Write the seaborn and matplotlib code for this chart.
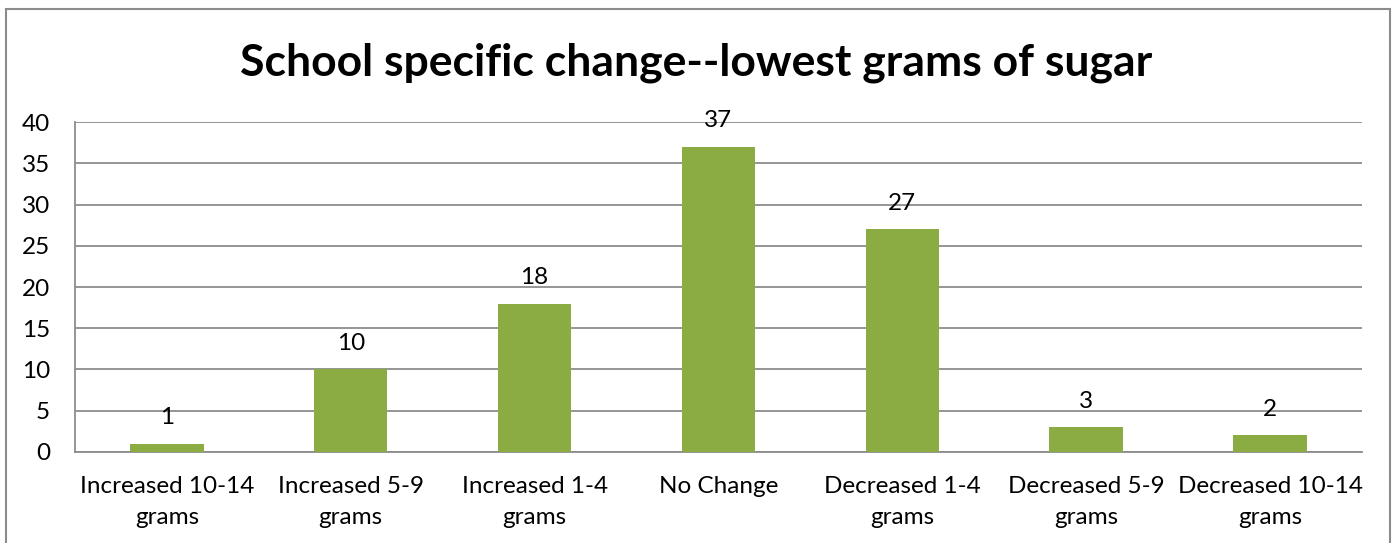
import matplotlib
matplotlib.use("Agg")
import matplotlib.pyplot as plt
from matplotlib.patches import Rectangle
import seaborn as sns
import pandas as pd

categories = [
    "Increased 10-14\ngrams",
    "Increased 5-9\ngrams",
    "Increased 1-4\ngrams",
    "No Change",
    "Decreased 1-4\ngrams",
    "Decreased 5-9\ngrams",
    "Decreased 10-14\ngrams",
]
counts = [1, 10, 18, 37, 27, 3, 2]
y_ticks = [0, 5, 10, 15, 20, 25, 30, 35, 40]

title = "School specific change--lowest grams of sugar"
bar_color = "#8AAC42"
grid_color = "#8C8C8C"

sns.set_theme(style="white")
plt.rcParams["font.family"] = ["Lato", "DejaVu Sans"]

df = pd.DataFrame({"category": categories, "count": counts})

fig = plt.figure(figsize=(13.93, 5.43), dpi=100)
ax = fig.add_axes([0.0538, 0.1676, 0.9239, 0.6077])

sns.barplot(data=df, x="category", y="count", color=bar_color, saturation=1,
            width=0.4, linewidth=0, ax=ax, zorder=3)

ax.set_ylim(0, 40)
ax.set_yticks(y_ticks)
ax.set_xlim(-0.5, len(categories) - 0.5)
ax.yaxis.grid(True, color=grid_color, linewidth=1.3, zorder=0)
ax.set_axisbelow(True)
for side in ["top", "right"]:
    ax.spines[side].set_visible(False)
for side in ["left", "bottom"]:
    ax.spines[side].set_color(grid_color)
    ax.spines[side].set_linewidth(1.3)
ax.tick_params(axis="both", length=0, labelsize=17.5, colors="black")
ax.tick_params(axis="x", pad=17)
ax.tick_params(axis="y", pad=18)
ax.set_xlabel("")
ax.set_ylabel("")
for lbl in ax.get_xticklabels():
    lbl.set_linespacing(1.6)

for i, v in enumerate(counts):
    ax.annotate(str(v), (i, v), xytext=(0, 11), textcoords="offset points",
                ha="center", va="bottom", fontsize=17.5, color="black")

fig.text(0.5, 0.885, title, ha="center", va="center", fontsize=32,
         fontweight="bold", color="black")

# outer chart frame
frame = Rectangle((6 / 1393, -0.05), (1390 - 6) / 1393, 1.05 - 9 / 543,
                  transform=fig.transFigure, fill=False, edgecolor="#8C8C8C",
                  linewidth=1.5)
fig.patches.append(frame)

fig.savefig("out.png", dpi=100)
